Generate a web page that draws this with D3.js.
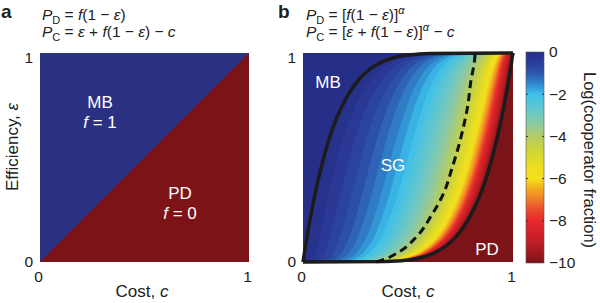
<!DOCTYPE html>
<html lang="en">
    <head>
        <meta charset="utf-8">
        <title>Cooperator fraction phase diagram</title>
        <script type="text/javascript" src="https://d3js.org/d3.v7.min.js"></script>
        <style type="text/css">
            body { margin: 0; background: white; }
            text {
                font-family: "Liberation Sans", Arial, sans-serif;
                fill: #222;
            }
        </style>
    </head>
    <body>
        <script type="text/javascript">

        // Panel a: boundary between MB and PD (c = eps)
        var boundaryCost = [0, 1];
        var boundaryEff = [0, 1];

        // Panel b: efficiency levels and the costs of the curves
        var effLevels = [0, 0.002, 0.01, 0.03, 0.06, 0.1, 0.15, 0.2, 0.3, 0.4, 0.5, 0.6, 0.7, 0.8, 0.85, 0.9, 0.94, 0.97, 0.99, 0.998, 1];
        var mbCost = [0, 0.0003, 0.0015, 0.0046, 0.0092, 0.016, 0.024, 0.033, 0.052, 0.074, 0.099, 0.128, 0.165, 0.215, 0.248, 0.292, 0.344, 0.409, 0.50, 0.606, 1];
        var pdCost = [0, 0.394, 0.50, 0.591, 0.656, 0.708, 0.752, 0.785, 0.835, 0.872, 0.901, 0.926, 0.948, 0.967, 0.976, 0.984, 0.991, 0.995, 0.998, 1.0, 1.0];

        // dashed curve
        var dashEff = [0, 0.01, 0.05, 0.12, 0.22, 0.33, 0.45, 0.55, 0.65, 0.75, 0.87, 0.95, 1];
        var dashCost = [0.35, 0.38, 0.46, 0.54, 0.61, 0.67, 0.71, 0.74, 0.765, 0.785, 0.80, 0.815, 0.82];

        // log(cooperator fraction) across the SG band (0 = MB edge, 1 = PD edge)
        var bandPos = [0, 0.1, 0.25, 0.4, 0.5, 0.6, 0.7, 0.77, 0.85, 0.9, 0.95, 1];
        var bandLog = [0, -0.3, -0.85, -1.5, -2, -2.7, -3.5, -4.2, -5.5, -6.7, -8.5, -10];

        // colour map
        var cmapValues = [0, -0.5, -1, -1.5, -2, -2.5, -3, -3.5, -4, -4.5, -5, -5.5, -6, -6.5, -7, -7.5, -8, -9, -10];
        var cmapColors = ["#262f88", "#2a3c99", "#2d56ad", "#3088cc", "#3cc0ec", "#58c5d6", "#74c8bf", "#94c99a", "#b2cd64", "#c9d242", "#dcd92c", "#eede20", "#f3e01c", "#f3a822", "#ef7a2a", "#ea4a2c", "#e6282d", "#c01e25", "#7a1418"];
        var colorbarTicks = [0, -2, -4, -6, -8, -10];

        var w = 600;
        var h = 303;

        var svg = d3.select("body")
                    .append("svg")
                    .attr("width", w)
                    .attr("height", h);

        var color = d3.scaleLinear()
                      .domain(cmapValues)
                      .range(cmapColors)
                      .interpolate(d3.interpolateRgb)
                      .clamp(true);

        var bandScale = d3.scaleLinear().domain(bandLog).range(bandPos).clamp(true);

        // ---------- Panel a ----------
        var xA = d3.scaleLinear().domain([0, 1]).range([40, 249]);
        var yA = d3.scaleLinear().domain([0, 1]).range([262, 53]);

        var diag = boundaryCost.map(function(c, i) { return {c: c, e: boundaryEff[i]}; });

        svg.append("rect")
           .attr("x", xA(0)).attr("y", yA(1))
           .attr("width", xA(1) - xA(0)).attr("height", yA(0) - yA(1))
           .attr("fill", "#7c1417");

        svg.append("path")
           .datum(diag)
           .attr("fill", "#2b3181")
           .attr("d", d3.area()
                .x(function(d) { return xA(d.c); })
                .y0(yA(1))
                .y1(function(d) { return yA(d.e); }));

        // ---------- Panel b ----------
        var xB = d3.scaleLinear().domain([0, 1]).range([303, 513]);
        var yB = d3.scaleLinear().domain([0, 1]).range([262, 53]);

        var gB = svg.append("g");

        gB.append("rect")
          .attr("x", xB(0)).attr("y", yB(1))
          .attr("width", xB(1) - xB(0)).attr("height", yB(0) - yB(1))
          .attr("fill", color(-10));

        var leftArea = d3.area()
                .curve(d3.curveMonotoneY)
                .y(function(d) { return yB(d.e); })
                .x0(xB(0))
                .x1(function(d) { return xB(d.c); });

        var step = 0.25;
        var levels = d3.range(-10 + step, -0.01, step);
        levels.forEach(function(v) {
            var t = bandScale(v);
            var pts = effLevels.map(function(e, i) {
                return {e: e, c: mbCost[i] + t * (pdCost[i] - mbCost[i])};
            });
            gB.append("path")
              .datum(pts)
              .attr("fill", color(v + step / 2))
              .attr("d", leftArea);
        });

        var mbPts = effLevels.map(function(e, i) { return {e: e, c: mbCost[i]}; });
        var pdPts = effLevels.map(function(e, i) { return {e: e, c: pdCost[i]}; });
        var dashPts = dashEff.map(function(e, i) { return {e: e, c: dashCost[i]}; });

        gB.append("path")
          .datum(mbPts)
          .attr("fill", color(0))
          .attr("d", leftArea);

        var line = d3.line()
                .curve(d3.curveMonotoneY)
                .x(function(d) { return xB(d.c); })
                .y(function(d) { return yB(d.e); });

        [mbPts, pdPts].forEach(function(p) {
            gB.append("path")
              .datum(p)
              .attr("fill", "none")
              .attr("stroke", "#1c1c1c")
              .attr("stroke-width", 3.5)
              .attr("stroke-linejoin", "round")
              .attr("d", line);
        });

        gB.append("path")
          .datum(dashPts)
          .attr("fill", "none")
          .attr("stroke", "#111")
          .attr("stroke-width", 3)
          .attr("stroke-dasharray", "8,5")
          .attr("d", line);

        // ---------- Axes ----------
        function styleAxis(g) {
            g.select(".domain").remove();
            g.selectAll("text")
             .attr("font-size", 15.5)
             .attr("fill", "#222")
             .style("font-family", "'Liberation Sans', Arial, sans-serif");
        }

        [[xA, yA], [xB, yB]].forEach(function(s) {
            svg.append("g")
               .attr("transform", "translate(0," + s[1](0) + ")")
               .call(d3.axisBottom(s[0]).tickValues([0, 1]).tickSize(0).tickPadding(9).tickFormat(d3.format("d")))
               .call(styleAxis)
               .selectAll("text").attr("x", -2);

            svg.append("g")
               .attr("transform", "translate(" + s[0](0) + ",0)")
               .call(d3.axisLeft(s[1]).tickValues([0, 1]).tickSize(0).tickPadding(7).tickFormat(d3.format("d")))
               .call(styleAxis)
               .selectAll("text").attr("dy", function(d) { return d === 1 ? "0.6em" : "0.3em"; });
        });

        svg.append("text")
           .attr("x", 142).attr("y", 297)
           .attr("text-anchor", "middle")
           .attr("font-size", 17)
           .html('Cost, <tspan font-style="italic">c</tspan>');

        svg.append("text")
           .attr("x", 408).attr("y", 297)
           .attr("text-anchor", "middle")
           .attr("font-size", 17)
           .html('Cost, <tspan font-style="italic">c</tspan>');

        svg.append("text")
           .attr("transform", "translate(18,147) rotate(-90)")
           .attr("text-anchor", "middle")
           .attr("font-size", 17)
           .html('Efficiency, <tspan font-style="italic">ε</tspan>');

        // ---------- Region labels ----------
        function label(x, y, html) {
            svg.append("text")
               .attr("x", x).attr("y", y)
               .attr("text-anchor", "middle")
               .attr("font-size", 17)
               .style("fill", "white")
               .html(html);
        }
        label(100, 108, "MB");
        label(100, 128, '<tspan font-style="italic">f</tspan> = 1');
        label(180, 199, "PD");
        label(180, 219, '<tspan font-style="italic">f</tspan> = 0');
        label(328, 88, "MB");
        label(393, 171, "SG");
        label(487, 255, "PD");

        // ---------- Panel letters and formulas ----------
        svg.append("text").attr("x", 1).attr("y", 18)
           .attr("font-size", 19).attr("font-weight", "bold").text("a");
        svg.append("text").attr("x", 278).attr("y", 18)
           .attr("font-size", 19).attr("font-weight", "bold").text("b");

        var I = function(s) { return '<tspan font-style="italic">' + s + '</tspan>'; };
        var sub = function(s) { return '<tspan font-size="11" dy="4">' + s + '</tspan><tspan dy="-4"> </tspan>'; };
        var sup = function(s) { return '<tspan font-size="11" font-style="italic" dy="-6">' + s + '</tspan><tspan dy="6"> </tspan>'; };

        function formula(x, y, html) {
            svg.append("text").attr("x", x).attr("y", y)
               .attr("font-size", 15.5).attr("xml:space", "preserve").html(html);
        }
        formula(42, 20, I("P") + sub("D") + "= " + I("f") + "(1 − " + I("ε") + ")");
        formula(42, 37, I("P") + sub("C") + "= " + I("ε") + " + " + I("f") + "(1 − " + I("ε") + ") − " + I("c"));
        formula(306, 20, I("P") + sub("D") + "= [" + I("f") + "(1 − " + I("ε") + ")]" + sup("α"));
        formula(306, 37, I("P") + sub("C") + "= [" + I("ε") + " + " + I("f") + "(1 − " + I("ε") + ")]" + sup("α") + "− " + I("c"));

        // ---------- Colour bar ----------
        var cbY = d3.scaleLinear().domain([0, -10]).range([52, 263]);
        var grad = svg.append("defs").append("linearGradient")
                      .attr("id", "cbar")
                      .attr("x1", 0).attr("x2", 0).attr("y1", 0).attr("y2", 1);
        cmapValues.forEach(function(v, i) {
            grad.append("stop")
                .attr("offset", (-v / 10 * 100) + "%")
                .attr("stop-color", cmapColors[i]);
        });

        svg.append("rect")
           .attr("x", 526).attr("y", cbY(0))
           .attr("width", 18).attr("height", cbY(-10) - cbY(0))
           .attr("fill", "url(#cbar)")
           .attr("stroke", "#555").attr("stroke-width", 0.6);

        svg.append("g")
           .attr("transform", "translate(544,0)")
           .call(d3.axisRight(cbY).tickValues(colorbarTicks).tickSize(0).tickPadding(5)
                 .tickFormat(function(d) { return d === 0 ? "0" : "−" + Math.abs(d); }))
           .call(styleAxis);

        svg.selectAll(".cbtick")
           .data(colorbarTicks.slice(1, -1))
           .enter()
           .append("path")
           .attr("stroke", "#333")
           .attr("stroke-width", 1)
           .attr("d", function(d) {
               return "M526," + cbY(d) + "h2M544," + cbY(d) + "h-2";
           });

        svg.append("text")
           .attr("transform", "translate(584,160) rotate(90)")
           .attr("text-anchor", "middle")
           .attr("font-size", 16.5)
           .text("Log(cooperator fraction)");

        </script>
    </body>
</html>
